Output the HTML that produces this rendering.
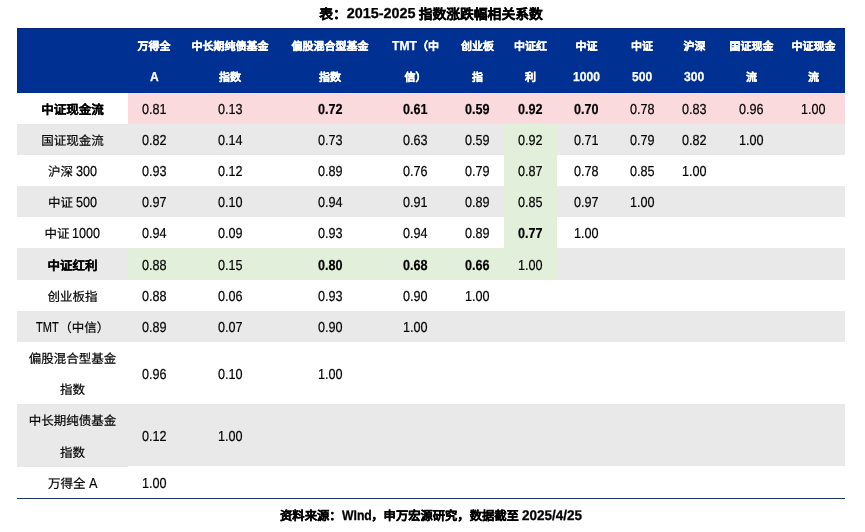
<!DOCTYPE html>
<html lang="zh-CN"><head><meta charset="utf-8"><style>
*{margin:0;padding:0;box-sizing:border-box}
html,body{width:865px;height:532px;background:#fff;overflow:hidden}
.cell,.title,.foot{will-change:transform}
body{font-family:"Liberation Sans",sans-serif;color:#000;position:relative;text-rendering:geometricPrecision}
.a{position:absolute}
.cell{-webkit-text-stroke:.2px #000;position:absolute;display:flex;align-items:center;justify-content:center;white-space:nowrap}
.title{-webkit-text-stroke:.3px #000;position:absolute;left:17px;width:828px;top:0;height:27px;display:flex;align-items:center;justify-content:center;font-weight:bold;white-space:nowrap}
.hd{color:#fff;font-weight:bold;-webkit-text-stroke:.25px #fff}
.c{position:relative}
.l{position:relative;display:inline-block;line-height:1.15;white-space:nowrap}
.in{display:inline-block;transform-origin:0 50%}
.sp{display:inline-block;width:3px}
.b{font-weight:bold}
.foot{-webkit-text-stroke:.3px #000;position:absolute;left:17px;width:828px;top:498px;height:34px;display:flex;align-items:center;justify-content:center;font-weight:bold;white-space:nowrap}
</style></head><body>

<div class="title"><span class="c" style="font-size:13.8px;top:-1px">表：</span><span class="l" style="width:68.86px;font-size:14.4px;top:1px"><span class="in" style="transform:scaleX(1)">2015-2025</span></span><span class="sp"></span><span class="c" style="font-size:13.8px;top:-1px">指数涨跌幅相关系数</span></div>
<div class="a" style="left:17px;top:28px;width:828px;height:65px;background:#003092"></div>
<div class="a" style="left:17px;top:28px;width:828px;height:1px;background:#06267a"></div>
<div class="a" style="left:17px;top:28px;width:1px;height:65px;background:#05297e"></div>
<div class="a" style="left:128px;top:93px;width:717px;height:31px;background:#fadadd"></div>
<div class="a" style="left:17px;top:124px;width:487px;height:31px;background:#e9e9e9"></div>
<div class="a" style="left:504px;top:124px;width:53px;height:31px;background:#e2efda"></div>
<div class="a" style="left:557px;top:124px;width:288px;height:31px;background:#e9e9e9"></div>
<div class="a" style="left:504px;top:155px;width:53px;height:31px;background:#e2efda"></div>
<div class="a" style="left:17px;top:186px;width:487px;height:31px;background:#e9e9e9"></div>
<div class="a" style="left:504px;top:186px;width:53px;height:31px;background:#e2efda"></div>
<div class="a" style="left:557px;top:186px;width:288px;height:31px;background:#e9e9e9"></div>
<div class="a" style="left:504px;top:217px;width:53px;height:31px;background:#e2efda"></div>
<div class="a" style="left:17px;top:248px;width:111px;height:32px;background:#e9e9e9"></div>
<div class="a" style="left:128px;top:248px;width:429px;height:32px;background:#e2efda"></div>
<div class="a" style="left:557px;top:248px;width:288px;height:32px;background:#e9e9e9"></div>
<div class="a" style="left:17px;top:311px;width:828px;height:31px;background:#e9e9e9"></div>
<div class="a" style="left:17px;top:404px;width:111px;height:63px;background:#e9e9e9"></div>
<div class="a" style="left:128px;top:404px;width:717px;height:62px;background:#e9e9e9"></div>
<div class="a" style="left:17px;top:497.6px;width:828px;height:1.2px;background:#1f3864"></div>
<div class="cell hd" style="left:128px;width:52px;top:30px;height:31px"><span class="c" style="font-size:11px;top:0.6px">万得全</span></div>
<div class="cell hd" style="left:128px;width:52px;top:61px;height:31px"><span class="l" style="width:8.73px;font-size:13px;top:1.4px"><span class="in" style="transform:scaleX(0.93)">A</span></span></div>
<div class="cell hd" style="left:180px;width:100px;top:30px;height:31px"><span class="c" style="font-size:11px;top:0.6px">中长期纯债基金</span></div>
<div class="cell hd" style="left:180px;width:100px;top:61px;height:31px"><span class="c" style="font-size:11px;top:0.6px">指数</span></div>
<div class="cell hd" style="left:280px;width:100px;top:30px;height:31px"><span class="c" style="font-size:11px;top:0.6px">偏股混合型基金</span></div>
<div class="cell hd" style="left:280px;width:100px;top:61px;height:31px"><span class="c" style="font-size:11px;top:0.6px">指数</span></div>
<div class="cell hd" style="left:380px;width:71px;top:30px;height:31px"><span class="l" style="width:24.84px;font-size:13px;top:1.4px"><span class="in" style="transform:scaleX(0.93)">TMT</span></span><span class="c" style="font-size:11px;top:0.6px">（中</span></div>
<div class="cell hd" style="left:380px;width:71px;top:61px;height:31px"><span class="c" style="font-size:11px;top:0.6px">信）</span></div>
<div class="cell hd" style="left:451px;width:53px;top:30px;height:31px"><span class="c" style="font-size:11px;top:0.6px">创业板</span></div>
<div class="cell hd" style="left:451px;width:53px;top:61px;height:31px"><span class="c" style="font-size:11px;top:0.6px">指</span></div>
<div class="cell hd" style="left:504px;width:53px;top:30px;height:31px"><span class="c" style="font-size:11px;top:0.6px">中证红</span></div>
<div class="cell hd" style="left:504px;width:53px;top:61px;height:31px"><span class="c" style="font-size:11px;top:0.6px">利</span></div>
<div class="cell hd" style="left:557px;width:59px;top:30px;height:31px"><span class="c" style="font-size:11px;top:0.6px">中证</span></div>
<div class="cell hd" style="left:557px;width:59px;top:61px;height:31px"><span class="l" style="width:26.90px;font-size:13px;top:1.4px"><span class="in" style="transform:scaleX(0.93)">1000</span></span></div>
<div class="cell hd" style="left:616px;width:52px;top:30px;height:31px"><span class="c" style="font-size:11px;top:0.6px">中证</span></div>
<div class="cell hd" style="left:616px;width:52px;top:61px;height:31px"><span class="l" style="width:20.17px;font-size:13px;top:1.4px"><span class="in" style="transform:scaleX(0.93)">500</span></span></div>
<div class="cell hd" style="left:668px;width:53px;top:30px;height:31px"><span class="c" style="font-size:11px;top:0.6px">沪深</span></div>
<div class="cell hd" style="left:668px;width:53px;top:61px;height:31px"><span class="l" style="width:20.17px;font-size:13px;top:1.4px"><span class="in" style="transform:scaleX(0.93)">300</span></span></div>
<div class="cell hd" style="left:721px;width:61px;top:30px;height:31px"><span class="c" style="font-size:11px;top:0.6px">国证现金</span></div>
<div class="cell hd" style="left:721px;width:61px;top:61px;height:31px"><span class="c" style="font-size:11px;top:0.6px">流</span></div>
<div class="cell hd" style="left:782px;width:63px;top:30px;height:31px"><span class="c" style="font-size:11px;top:0.6px">中证现金</span></div>
<div class="cell hd" style="left:782px;width:63px;top:61px;height:31px"><span class="c" style="font-size:11px;top:0.6px">流</span></div>
<div class="cell b" style="left:17px;width:111px;top:93px;height:31px"><span class="c" style="font-size:12.5px;top:0.3px">中证现金流</span></div>
<div class="cell" style="left:128px;width:52px;top:93px;height:31px"><span class="l" style="width:24.55px;font-size:14.5px;top:2px"><span class="in" style="transform:scaleX(0.87)">0.81</span></span></div>
<div class="cell" style="left:180px;width:100px;top:93px;height:31px"><span class="l" style="width:24.55px;font-size:14.5px;top:2px"><span class="in" style="transform:scaleX(0.87)">0.13</span></span></div>
<div class="cell b" style="left:280px;width:100px;top:93px;height:31px"><span class="l" style="width:24.55px;font-size:14.5px;top:2px"><span class="in" style="transform:scaleX(0.87)">0.72</span></span></div>
<div class="cell b" style="left:380px;width:71px;top:93px;height:31px"><span class="l" style="width:24.55px;font-size:14.5px;top:2px"><span class="in" style="transform:scaleX(0.87)">0.61</span></span></div>
<div class="cell b" style="left:451px;width:53px;top:93px;height:31px"><span class="l" style="width:24.55px;font-size:14.5px;top:2px"><span class="in" style="transform:scaleX(0.87)">0.59</span></span></div>
<div class="cell b" style="left:504px;width:53px;top:93px;height:31px"><span class="l" style="width:24.55px;font-size:14.5px;top:2px"><span class="in" style="transform:scaleX(0.87)">0.92</span></span></div>
<div class="cell b" style="left:557px;width:59px;top:93px;height:31px"><span class="l" style="width:24.55px;font-size:14.5px;top:2px"><span class="in" style="transform:scaleX(0.87)">0.70</span></span></div>
<div class="cell" style="left:616px;width:52px;top:93px;height:31px"><span class="l" style="width:24.55px;font-size:14.5px;top:2px"><span class="in" style="transform:scaleX(0.87)">0.78</span></span></div>
<div class="cell" style="left:668px;width:53px;top:93px;height:31px"><span class="l" style="width:24.55px;font-size:14.5px;top:2px"><span class="in" style="transform:scaleX(0.87)">0.83</span></span></div>
<div class="cell" style="left:721px;width:61px;top:93px;height:31px"><span class="l" style="width:24.55px;font-size:14.5px;top:2px"><span class="in" style="transform:scaleX(0.87)">0.96</span></span></div>
<div class="cell" style="left:782px;width:63px;top:93px;height:31px"><span class="l" style="width:24.55px;font-size:14.5px;top:2px"><span class="in" style="transform:scaleX(0.87)">1.00</span></span></div>
<div class="cell" style="left:17px;width:111px;top:124px;height:31px"><span class="c" style="font-size:12.5px;top:0.3px">国证现金流</span></div>
<div class="cell" style="left:128px;width:52px;top:124px;height:31px"><span class="l" style="width:24.55px;font-size:14.5px;top:2px"><span class="in" style="transform:scaleX(0.87)">0.82</span></span></div>
<div class="cell" style="left:180px;width:100px;top:124px;height:31px"><span class="l" style="width:24.55px;font-size:14.5px;top:2px"><span class="in" style="transform:scaleX(0.87)">0.14</span></span></div>
<div class="cell" style="left:280px;width:100px;top:124px;height:31px"><span class="l" style="width:24.55px;font-size:14.5px;top:2px"><span class="in" style="transform:scaleX(0.87)">0.73</span></span></div>
<div class="cell" style="left:380px;width:71px;top:124px;height:31px"><span class="l" style="width:24.55px;font-size:14.5px;top:2px"><span class="in" style="transform:scaleX(0.87)">0.63</span></span></div>
<div class="cell" style="left:451px;width:53px;top:124px;height:31px"><span class="l" style="width:24.55px;font-size:14.5px;top:2px"><span class="in" style="transform:scaleX(0.87)">0.59</span></span></div>
<div class="cell" style="left:504px;width:53px;top:124px;height:31px"><span class="l" style="width:24.55px;font-size:14.5px;top:2px"><span class="in" style="transform:scaleX(0.87)">0.92</span></span></div>
<div class="cell" style="left:557px;width:59px;top:124px;height:31px"><span class="l" style="width:24.55px;font-size:14.5px;top:2px"><span class="in" style="transform:scaleX(0.87)">0.71</span></span></div>
<div class="cell" style="left:616px;width:52px;top:124px;height:31px"><span class="l" style="width:24.55px;font-size:14.5px;top:2px"><span class="in" style="transform:scaleX(0.87)">0.79</span></span></div>
<div class="cell" style="left:668px;width:53px;top:124px;height:31px"><span class="l" style="width:24.55px;font-size:14.5px;top:2px"><span class="in" style="transform:scaleX(0.87)">0.82</span></span></div>
<div class="cell" style="left:721px;width:61px;top:124px;height:31px"><span class="l" style="width:24.55px;font-size:14.5px;top:2px"><span class="in" style="transform:scaleX(0.87)">1.00</span></span></div>
<div class="cell" style="left:17px;width:111px;top:155px;height:31px"><span class="c" style="font-size:12.5px;top:0.3px">沪深</span><span class="sp"></span><span class="l" style="width:21.05px;font-size:14.5px;top:2px"><span class="in" style="transform:scaleX(0.87)">300</span></span></div>
<div class="cell" style="left:128px;width:52px;top:155px;height:31px"><span class="l" style="width:24.55px;font-size:14.5px;top:2px"><span class="in" style="transform:scaleX(0.87)">0.93</span></span></div>
<div class="cell" style="left:180px;width:100px;top:155px;height:31px"><span class="l" style="width:24.55px;font-size:14.5px;top:2px"><span class="in" style="transform:scaleX(0.87)">0.12</span></span></div>
<div class="cell" style="left:280px;width:100px;top:155px;height:31px"><span class="l" style="width:24.55px;font-size:14.5px;top:2px"><span class="in" style="transform:scaleX(0.87)">0.89</span></span></div>
<div class="cell" style="left:380px;width:71px;top:155px;height:31px"><span class="l" style="width:24.55px;font-size:14.5px;top:2px"><span class="in" style="transform:scaleX(0.87)">0.76</span></span></div>
<div class="cell" style="left:451px;width:53px;top:155px;height:31px"><span class="l" style="width:24.55px;font-size:14.5px;top:2px"><span class="in" style="transform:scaleX(0.87)">0.79</span></span></div>
<div class="cell" style="left:504px;width:53px;top:155px;height:31px"><span class="l" style="width:24.55px;font-size:14.5px;top:2px"><span class="in" style="transform:scaleX(0.87)">0.87</span></span></div>
<div class="cell" style="left:557px;width:59px;top:155px;height:31px"><span class="l" style="width:24.55px;font-size:14.5px;top:2px"><span class="in" style="transform:scaleX(0.87)">0.78</span></span></div>
<div class="cell" style="left:616px;width:52px;top:155px;height:31px"><span class="l" style="width:24.55px;font-size:14.5px;top:2px"><span class="in" style="transform:scaleX(0.87)">0.85</span></span></div>
<div class="cell" style="left:668px;width:53px;top:155px;height:31px"><span class="l" style="width:24.55px;font-size:14.5px;top:2px"><span class="in" style="transform:scaleX(0.87)">1.00</span></span></div>
<div class="cell" style="left:17px;width:111px;top:186px;height:31px"><span class="c" style="font-size:12.5px;top:0.3px">中证</span><span class="sp"></span><span class="l" style="width:21.05px;font-size:14.5px;top:2px"><span class="in" style="transform:scaleX(0.87)">500</span></span></div>
<div class="cell" style="left:128px;width:52px;top:186px;height:31px"><span class="l" style="width:24.55px;font-size:14.5px;top:2px"><span class="in" style="transform:scaleX(0.87)">0.97</span></span></div>
<div class="cell" style="left:180px;width:100px;top:186px;height:31px"><span class="l" style="width:24.55px;font-size:14.5px;top:2px"><span class="in" style="transform:scaleX(0.87)">0.10</span></span></div>
<div class="cell" style="left:280px;width:100px;top:186px;height:31px"><span class="l" style="width:24.55px;font-size:14.5px;top:2px"><span class="in" style="transform:scaleX(0.87)">0.94</span></span></div>
<div class="cell" style="left:380px;width:71px;top:186px;height:31px"><span class="l" style="width:24.55px;font-size:14.5px;top:2px"><span class="in" style="transform:scaleX(0.87)">0.91</span></span></div>
<div class="cell" style="left:451px;width:53px;top:186px;height:31px"><span class="l" style="width:24.55px;font-size:14.5px;top:2px"><span class="in" style="transform:scaleX(0.87)">0.89</span></span></div>
<div class="cell" style="left:504px;width:53px;top:186px;height:31px"><span class="l" style="width:24.55px;font-size:14.5px;top:2px"><span class="in" style="transform:scaleX(0.87)">0.85</span></span></div>
<div class="cell" style="left:557px;width:59px;top:186px;height:31px"><span class="l" style="width:24.55px;font-size:14.5px;top:2px"><span class="in" style="transform:scaleX(0.87)">0.97</span></span></div>
<div class="cell" style="left:616px;width:52px;top:186px;height:31px"><span class="l" style="width:24.55px;font-size:14.5px;top:2px"><span class="in" style="transform:scaleX(0.87)">1.00</span></span></div>
<div class="cell" style="left:17px;width:111px;top:217px;height:31px"><span class="c" style="font-size:12.5px;top:0.3px">中证</span><span class="sp"></span><span class="l" style="width:28.06px;font-size:14.5px;top:2px"><span class="in" style="transform:scaleX(0.87)">1000</span></span></div>
<div class="cell" style="left:128px;width:52px;top:217px;height:31px"><span class="l" style="width:24.55px;font-size:14.5px;top:2px"><span class="in" style="transform:scaleX(0.87)">0.94</span></span></div>
<div class="cell" style="left:180px;width:100px;top:217px;height:31px"><span class="l" style="width:24.55px;font-size:14.5px;top:2px"><span class="in" style="transform:scaleX(0.87)">0.09</span></span></div>
<div class="cell" style="left:280px;width:100px;top:217px;height:31px"><span class="l" style="width:24.55px;font-size:14.5px;top:2px"><span class="in" style="transform:scaleX(0.87)">0.93</span></span></div>
<div class="cell" style="left:380px;width:71px;top:217px;height:31px"><span class="l" style="width:24.55px;font-size:14.5px;top:2px"><span class="in" style="transform:scaleX(0.87)">0.94</span></span></div>
<div class="cell" style="left:451px;width:53px;top:217px;height:31px"><span class="l" style="width:24.55px;font-size:14.5px;top:2px"><span class="in" style="transform:scaleX(0.87)">0.89</span></span></div>
<div class="cell b" style="left:504px;width:53px;top:217px;height:31px"><span class="l" style="width:24.55px;font-size:14.5px;top:2px"><span class="in" style="transform:scaleX(0.87)">0.77</span></span></div>
<div class="cell" style="left:557px;width:59px;top:217px;height:31px"><span class="l" style="width:24.55px;font-size:14.5px;top:2px"><span class="in" style="transform:scaleX(0.87)">1.00</span></span></div>
<div class="cell b" style="left:17px;width:111px;top:248px;height:32px"><span class="c" style="font-size:12.5px;top:0.3px">中证红利</span></div>
<div class="cell" style="left:128px;width:52px;top:248px;height:32px"><span class="l" style="width:24.55px;font-size:14.5px;top:2px"><span class="in" style="transform:scaleX(0.87)">0.88</span></span></div>
<div class="cell" style="left:180px;width:100px;top:248px;height:32px"><span class="l" style="width:24.55px;font-size:14.5px;top:2px"><span class="in" style="transform:scaleX(0.87)">0.15</span></span></div>
<div class="cell b" style="left:280px;width:100px;top:248px;height:32px"><span class="l" style="width:24.55px;font-size:14.5px;top:2px"><span class="in" style="transform:scaleX(0.87)">0.80</span></span></div>
<div class="cell b" style="left:380px;width:71px;top:248px;height:32px"><span class="l" style="width:24.55px;font-size:14.5px;top:2px"><span class="in" style="transform:scaleX(0.87)">0.68</span></span></div>
<div class="cell b" style="left:451px;width:53px;top:248px;height:32px"><span class="l" style="width:24.55px;font-size:14.5px;top:2px"><span class="in" style="transform:scaleX(0.87)">0.66</span></span></div>
<div class="cell" style="left:504px;width:53px;top:248px;height:32px"><span class="l" style="width:24.55px;font-size:14.5px;top:2px"><span class="in" style="transform:scaleX(0.87)">1.00</span></span></div>
<div class="cell" style="left:17px;width:111px;top:280px;height:31px"><span class="c" style="font-size:12.5px;top:0.3px">创业板指</span></div>
<div class="cell" style="left:128px;width:52px;top:280px;height:31px"><span class="l" style="width:24.55px;font-size:14.5px;top:2px"><span class="in" style="transform:scaleX(0.87)">0.88</span></span></div>
<div class="cell" style="left:180px;width:100px;top:280px;height:31px"><span class="l" style="width:24.55px;font-size:14.5px;top:2px"><span class="in" style="transform:scaleX(0.87)">0.06</span></span></div>
<div class="cell" style="left:280px;width:100px;top:280px;height:31px"><span class="l" style="width:24.55px;font-size:14.5px;top:2px"><span class="in" style="transform:scaleX(0.87)">0.93</span></span></div>
<div class="cell" style="left:380px;width:71px;top:280px;height:31px"><span class="l" style="width:24.55px;font-size:14.5px;top:2px"><span class="in" style="transform:scaleX(0.87)">0.90</span></span></div>
<div class="cell" style="left:451px;width:53px;top:280px;height:31px"><span class="l" style="width:24.55px;font-size:14.5px;top:2px"><span class="in" style="transform:scaleX(0.87)">1.00</span></span></div>
<div class="cell" style="left:17px;width:111px;top:311px;height:31px"><span class="l" style="width:22.64px;font-size:14.5px;top:2px"><span class="in" style="transform:scaleX(0.76)">TMT</span></span><span class="c" style="font-size:12.5px;top:0.3px;margin-left:1px">（中信）</span></div>
<div class="cell" style="left:128px;width:52px;top:311px;height:31px"><span class="l" style="width:24.55px;font-size:14.5px;top:2px"><span class="in" style="transform:scaleX(0.87)">0.89</span></span></div>
<div class="cell" style="left:180px;width:100px;top:311px;height:31px"><span class="l" style="width:24.55px;font-size:14.5px;top:2px"><span class="in" style="transform:scaleX(0.87)">0.07</span></span></div>
<div class="cell" style="left:280px;width:100px;top:311px;height:31px"><span class="l" style="width:24.55px;font-size:14.5px;top:2px"><span class="in" style="transform:scaleX(0.87)">0.90</span></span></div>
<div class="cell" style="left:380px;width:71px;top:311px;height:31px"><span class="l" style="width:24.55px;font-size:14.5px;top:2px"><span class="in" style="transform:scaleX(0.87)">1.00</span></span></div>
<div class="cell" style="left:17px;width:111px;top:342px;height:31px"><span class="c" style="font-size:12.5px;top:0.3px">偏股混合型基金</span></div>
<div class="cell" style="left:17px;width:111px;top:373px;height:31px"><span class="c" style="font-size:12.5px;top:0.3px">指数</span></div>
<div class="cell" style="left:128px;width:52px;top:342px;height:62px"><span class="l" style="width:24.55px;font-size:14.5px;top:2px"><span class="in" style="transform:scaleX(0.87)">0.96</span></span></div>
<div class="cell" style="left:180px;width:100px;top:342px;height:62px"><span class="l" style="width:24.55px;font-size:14.5px;top:2px"><span class="in" style="transform:scaleX(0.87)">0.10</span></span></div>
<div class="cell" style="left:280px;width:100px;top:342px;height:62px"><span class="l" style="width:24.55px;font-size:14.5px;top:2px"><span class="in" style="transform:scaleX(0.87)">1.00</span></span></div>
<div class="cell" style="left:17px;width:111px;top:404px;height:31px"><span class="c" style="font-size:12.5px;top:0.3px">中长期纯债基金</span></div>
<div class="cell" style="left:17px;width:111px;top:436px;height:31px"><span class="c" style="font-size:12.5px;top:0.3px">指数</span></div>
<div class="cell" style="left:128px;width:52px;top:404px;height:63px"><span class="l" style="width:24.55px;font-size:14.5px;top:2px"><span class="in" style="transform:scaleX(0.87)">0.12</span></span></div>
<div class="cell" style="left:180px;width:100px;top:404px;height:63px"><span class="l" style="width:24.55px;font-size:14.5px;top:2px"><span class="in" style="transform:scaleX(0.87)">1.00</span></span></div>
<div class="cell" style="left:17px;width:111px;top:467px;height:31px"><span class="c" style="font-size:12.5px;top:0.3px">万得全</span><span class="sp"></span><span class="l" style="width:8.41px;font-size:14.5px;top:2px"><span class="in" style="transform:scaleX(0.87)">A</span></span></div>
<div class="cell" style="left:128px;width:52px;top:467px;height:31px"><span class="l" style="width:24.55px;font-size:14.5px;top:2px"><span class="in" style="transform:scaleX(0.87)">1.00</span></span></div>
<div class="foot"><span class="c" style="font-size:12.3px;top:0px">资料来源：</span><span class="l" style="width:29.76px;font-size:14px;top:0px"><span class="in" style="transform:scaleX(0.87)">WInd</span></span><span class="c" style="font-size:12.3px;top:0px">，申万宏源研究，数据截至</span><span class="sp"></span><span class="l" style="width:60.10px;font-size:14px;top:0px"><span class="in" style="transform:scaleX(0.965)">2025/4/25</span></span></div>
</body></html>
